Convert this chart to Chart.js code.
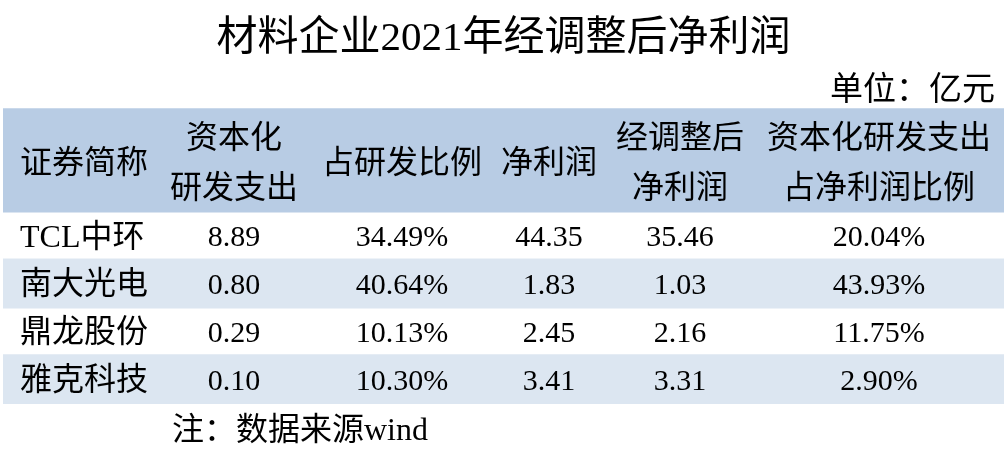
<!DOCTYPE html>
<html lang="zh-CN">
<head>
<meta charset="utf-8">
<title>材料企业2021年经调整后净利润</title>
<script src="https://cdn.jsdelivr.net/npm/chart.js@4.4.1/dist/chart.umd.min.js"></script>
<style>
  html, body { margin: 0; padding: 0; background: #ffffff; }
  #wrap { width: 1004px; height: 452px; position: relative; }
</style>
</head>
<body>
<div id="wrap"><canvas id="tabla"></canvas></div>
<script>
// ================================
// Datos de la tabla
// ================================
const empresas = ["TCL中环", "南大光电", "鼎龙股份", "雅克科技"];
const encabezados = [
  ["证券简称"],
  ["资本化", "研发支出"],
  ["占研发比例"],
  ["净利润"],
  ["经调整后", "净利润"],
  ["资本化研发支出", "占净利润比例"],
];
const gastoCapitalizado = [8.89, 0.80, 0.29, 0.10];   // 亿元
const ratioIDi = [34.49, 40.64, 10.13, 10.30];          // %
const beneficioNeto = [44.35, 1.83, 2.45, 3.41];        // 亿元
const beneficioAjustado = [35.46, 1.03, 2.16, 3.31];    // 亿元
const ratioBeneficio = [20.04, 43.93, 11.75, 2.90];     // %
const tituloTexto = "材料企业2021年经调整后净利润";
const unidadTexto = "单位：亿元";
const notaTexto = "注：数据来源wind";

// ================================
// Disposición (no son datos)
// ================================
const altoFilas = [104, 46, 50, 46, 50];          // cabecera + 4 filas, unidades del eje y
const anclaColumnas = [17, 231, 399, 546, 677, 876]; // unidades del eje "col"
const coloresFila = ["#b8cce4", "#ffffff", "#dce6f1", "#ffffff", "#dce6f1"];
const FUENTE = '"Liberation Serif", "Noto Sans CJK SC", serif';

const totalAlto = altoFilas.reduce((a, b) => a + b, 0);
const inicios = [];
altoFilas.reduce((acc, h) => { inicios.push(acc); return acc + h; }, 0);

const pct = (v) => v.toFixed(2) + "%";
const num = (v) => v.toFixed(2);

const filasTexto = empresas.map((e, i) => [
  e,
  num(gastoCapitalizado[i]),
  pct(ratioIDi[i]),
  num(beneficioNeto[i]),
  num(beneficioAjustado[i]),
  pct(ratioBeneficio[i]),
]);

// ================================
// Plugin: textos de la tabla
// ================================
const textoTabla = {
  id: "textoTabla",
  afterDatasetsDraw(chart) {
    const { ctx, scales } = chart;
    const y = scales.y;
    const col = scales.col;
    ctx.save();
    ctx.fillStyle = "#000000";
    ctx.textBaseline = "middle";

    // cabecera
    ctx.font = "32px " + FUENTE;
    const yCab = y.getPixelForValue(inicios[0] + altoFilas[0] / 2) + 4;
    encabezados.forEach((lineas, c) => {
      const x = col.getPixelForValue(anclaColumnas[c]);
      ctx.textAlign = c === 0 ? "left" : "center";
      lineas.forEach((t, k) => {
        const dy = (k - (lineas.length - 1) / 2) * 50;
        ctx.fillText(t, x, yCab + dy);
      });
    });

    // filas de datos
    filasTexto.forEach((fila, r) => {
      const yy = y.getPixelForValue(inicios[r + 1] + altoFilas[r + 1] / 2) + 3;
      fila.forEach((t, c) => {
        ctx.font = (c === 0 ? "32px " : "30px ") + FUENTE;
        ctx.textAlign = c === 0 ? "left" : "center";
        ctx.fillText(t, col.getPixelForValue(anclaColumnas[c]), yy);
      });
    });

    // unidad y nota
    ctx.font = "33px " + FUENTE;
    ctx.textAlign = "right";
    ctx.fillText(unidadTexto, col.getPixelForValue(992), y.getPixelForValue(0) - 17);
    ctx.font = "32px " + FUENTE;
    ctx.textAlign = "left";
    ctx.fillText(notaTexto, col.getPixelForValue(169), y.getPixelForValue(totalAlto) + 28);
    ctx.restore();
  },
};

// ================================
// Gráfico
// ================================
const datasets = altoFilas.map((h, i) => ({
  label: i === 0 ? "cabecera" : empresas[i - 1],
  data: [[inicios[i], inicios[i] + h]],
  backgroundColor: coloresFila[i],
  borderWidth: 0,
  grouped: false,
  barPercentage: 1,
  categoryPercentage: 1,
}));

new Chart(document.getElementById("tabla"), {
  type: "bar",
  data: { labels: ["表"], datasets },
  options: {
    responsive: true,
    maintainAspectRatio: false,
    animation: false,
    layout: { padding: { left: 3, right: 0, top: 0, bottom: 48 } },
    scales: {
      x: { display: false },
      col: { type: "linear", axis: "x", display: false, offset: false, min: 0, max: 1001 },
      y: { type: "linear", display: false, reverse: true, min: 0, max: totalAlto },
    },
    plugins: {
      legend: { display: false },
      tooltip: { enabled: false },
      title: {
        display: true,
        text: tituloTexto,
        color: "#000000",
        font: { family: FUENTE, size: 41, weight: "normal" },
        padding: { top: 15, bottom: 44 },
      },
    },
  },
  plugins: [textoTabla],
});
</script>
</body>
</html>
